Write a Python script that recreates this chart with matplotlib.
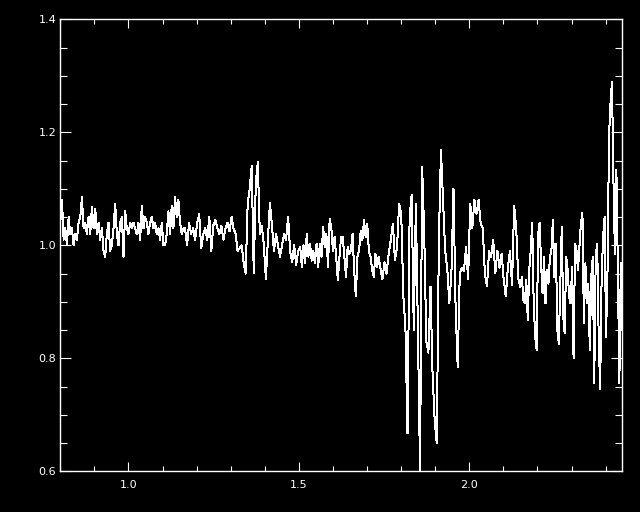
import numpy as np
import matplotlib
matplotlib.use("Agg")
import matplotlib.pyplot as plt
from matplotlib.ticker import MultipleLocator, FixedLocator

# Segment boundaries in wavelength (micron) and flux values
wave_edges = [0.80, 1.166, 1.504, 1.739, 2.150, 2.449]

flux_a = [1.04, 1.08, 1.01, 1.03, 1.00, 1.05, 1.02, 1.03, 1.00, 1.02, 1.01, 1.04, 1.05, 1.085,
          1.03, 1.04, 1.02, 1.05, 1.02, 1.068, 1.03, 1.065, 1.02, 1.04, 1.01, 1.03, 0.99, 0.98,
          1.02, 1.04, 0.99, 1.00, 1.03, 1.074, 1.02, 1.00, 1.04, 1.05, 0.98, 1.06, 1.03, 1.02,
          1.04, 1.03, 1.04, 1.03, 1.02, 1.04, 1.01, 1.07, 1.03, 1.05, 1.04, 1.02, 1.04, 1.05,
          1.03, 1.04, 1.02, 1.03, 1.01, 1.04, 1.00, 1.00, 1.02, 1.06, 1.02, 1.07, 1.03, 1.086,
          1.05, 1.08, 1.04, 1.02, 1.03]

flux_b = [1.03, 1.00, 1.04, 1.02, 1.03, 1.01, 1.04, 1.055, 0.995, 1.02, 1.03, 1.01, 1.05, 0.99,
          1.035, 1.045, 1.03, 1.02, 1.035, 1.01, 1.03, 1.04, 1.025, 1.05, 1.03, 1.02, 0.99,
          0.995, 1.00, 0.97, 0.95, 1.075, 1.10, 1.14, 0.95, 1.11, 1.147, 1.02, 1.035, 1.00,
          0.94, 1.01, 1.075, 1.035, 0.99, 1.02, 1.00, 0.98, 1.00, 1.02, 1.01, 1.05, 0.99, 0.97,
          1.00, 0.965, 0.99]

flux_c = [0.997, 0.962, 1.00, 0.968, 1.02, 0.98, 1.003, 0.973, 0.99, 0.968, 1.003, 0.962,
          1.003, 0.98, 1.032, 0.997, 1.02, 0.962, 1.047, 1.032, 0.99, 1.015, 0.98, 0.938, 0.98,
          1.015, 1.015, 0.98, 0.944, 0.997, 0.985, 0.99, 1.02, 0.956, 0.91, 0.98, 0.99, 1.026,
          1.009, 1.044, 1.015, 1.038, 0.99, 0.98, 0.956, 0.944, 0.985, 0.962, 0.98]

flux_d = [0.96, 0.94, 0.97, 0.95, 0.985, 1.009, 1.038, 0.974, 0.997, 1.074, 1.056, 0.91, 0.856,
          0.667, 1.05, 1.09, 0.85, 1.074, 0.844, 0.60, 1.139, 1.02, 0.83, 0.81, 0.927, 0.77,
          0.69, 0.65, 1.009, 1.168, 1.08, 0.99, 0.96, 0.898, 0.95, 1.10, 0.89, 0.785, 0.95,
          0.96, 0.955, 0.997, 0.94, 1.074, 1.03, 1.08, 1.056, 1.08, 1.038, 1.03, 0.95, 0.927,
          0.99, 0.98, 1.009, 0.95, 0.99, 0.96, 0.985, 0.94, 0.91, 0.96, 0.99, 0.93, 1.07, 1.03,
          0.94]

flux_e = [0.926, 0.944, 0.903, 0.897, 0.938, 0.868, 0.956, 0.991, 1.04, 0.897, 0.838, 0.815,
          1.02, 1.04, 0.968, 0.915, 0.98, 0.897, 0.956, 0.932, 0.98, 0.991, 1.045, 0.944, 1.003,
          0.85, 0.826, 0.932, 1.033, 0.874, 0.844, 0.98, 0.956, 0.909, 0.897, 0.962, 0.80,
          1.003, 0.991, 0.956, 0.997, 1.04, 1.057, 0.862, 0.968, 0.897, 0.932, 0.815, 0.944,
          0.98, 0.756, 0.98, 1.003, 0.838, 0.745, 0.944, 1.015, 1.05, 0.838, 0.956, 1.192,
          1.251, 1.29, 1.115, 0.985, 1.133, 0.956, 0.756, 0.968, 0.85]

x_ticks = [1.0, 1.5, 2.0]
x_ticklabels = ["1.0", "1.5", "2.0"]
y_ticks = [0.6, 0.8, 1.0, 1.2, 1.4]
y_ticklabels = ["0.6", "0.8", "1.0", "1.2", "1.4"]

segments = [flux_a, flux_b, flux_c, flux_d, flux_e]
waves = []
for i, seg in enumerate(segments):
    last = i == len(segments) - 1
    waves.append(np.linspace(wave_edges[i], wave_edges[i + 1], len(seg), endpoint=last))
wave = np.concatenate(waves)
flux = np.concatenate([np.asarray(s) for s in segments])

fig = plt.figure(figsize=(6.4, 5.12), dpi=100, facecolor="black")
ax = fig.add_axes([60.3 / 640, 1 - 471.3 / 512, (622.3 - 60.3) / 640, (471.3 - 19.3) / 512])
ax.set_facecolor("black")
ax.plot(wave, flux, color="white", lw=0.72, antialiased=False)

ax.set_xlim(0.80, 2.449)
ax.set_ylim(0.6, 1.4)
ax.xaxis.set_major_locator(FixedLocator(x_ticks))
ax.set_xticklabels(x_ticklabels)
ax.xaxis.set_minor_locator(MultipleLocator(0.1))
ax.yaxis.set_major_locator(FixedLocator(y_ticks))
ax.set_yticklabels(y_ticklabels)
ax.yaxis.set_minor_locator(MultipleLocator(0.05))

for s in ax.spines.values():
    s.set_color("white")
    s.set_linewidth(1.0)

ax.tick_params(axis="x", which="major", direction="in", length=6.5, width=0.8, color="white",
               labelcolor="white", labelsize=8, pad=6, top=True)
ax.tick_params(axis="x", which="minor", direction="in", length=3.4, width=0.8, color="white", top=True)
ax.tick_params(axis="y", which="major", direction="in", length=8.1, width=0.8, color="white",
               labelcolor="white", labelsize=8, pad=3, right=True)
ax.tick_params(axis="y", which="minor", direction="in", length=4.8, width=0.8, color="white", right=True)

fig.savefig("out.png", dpi=100, facecolor="black")
